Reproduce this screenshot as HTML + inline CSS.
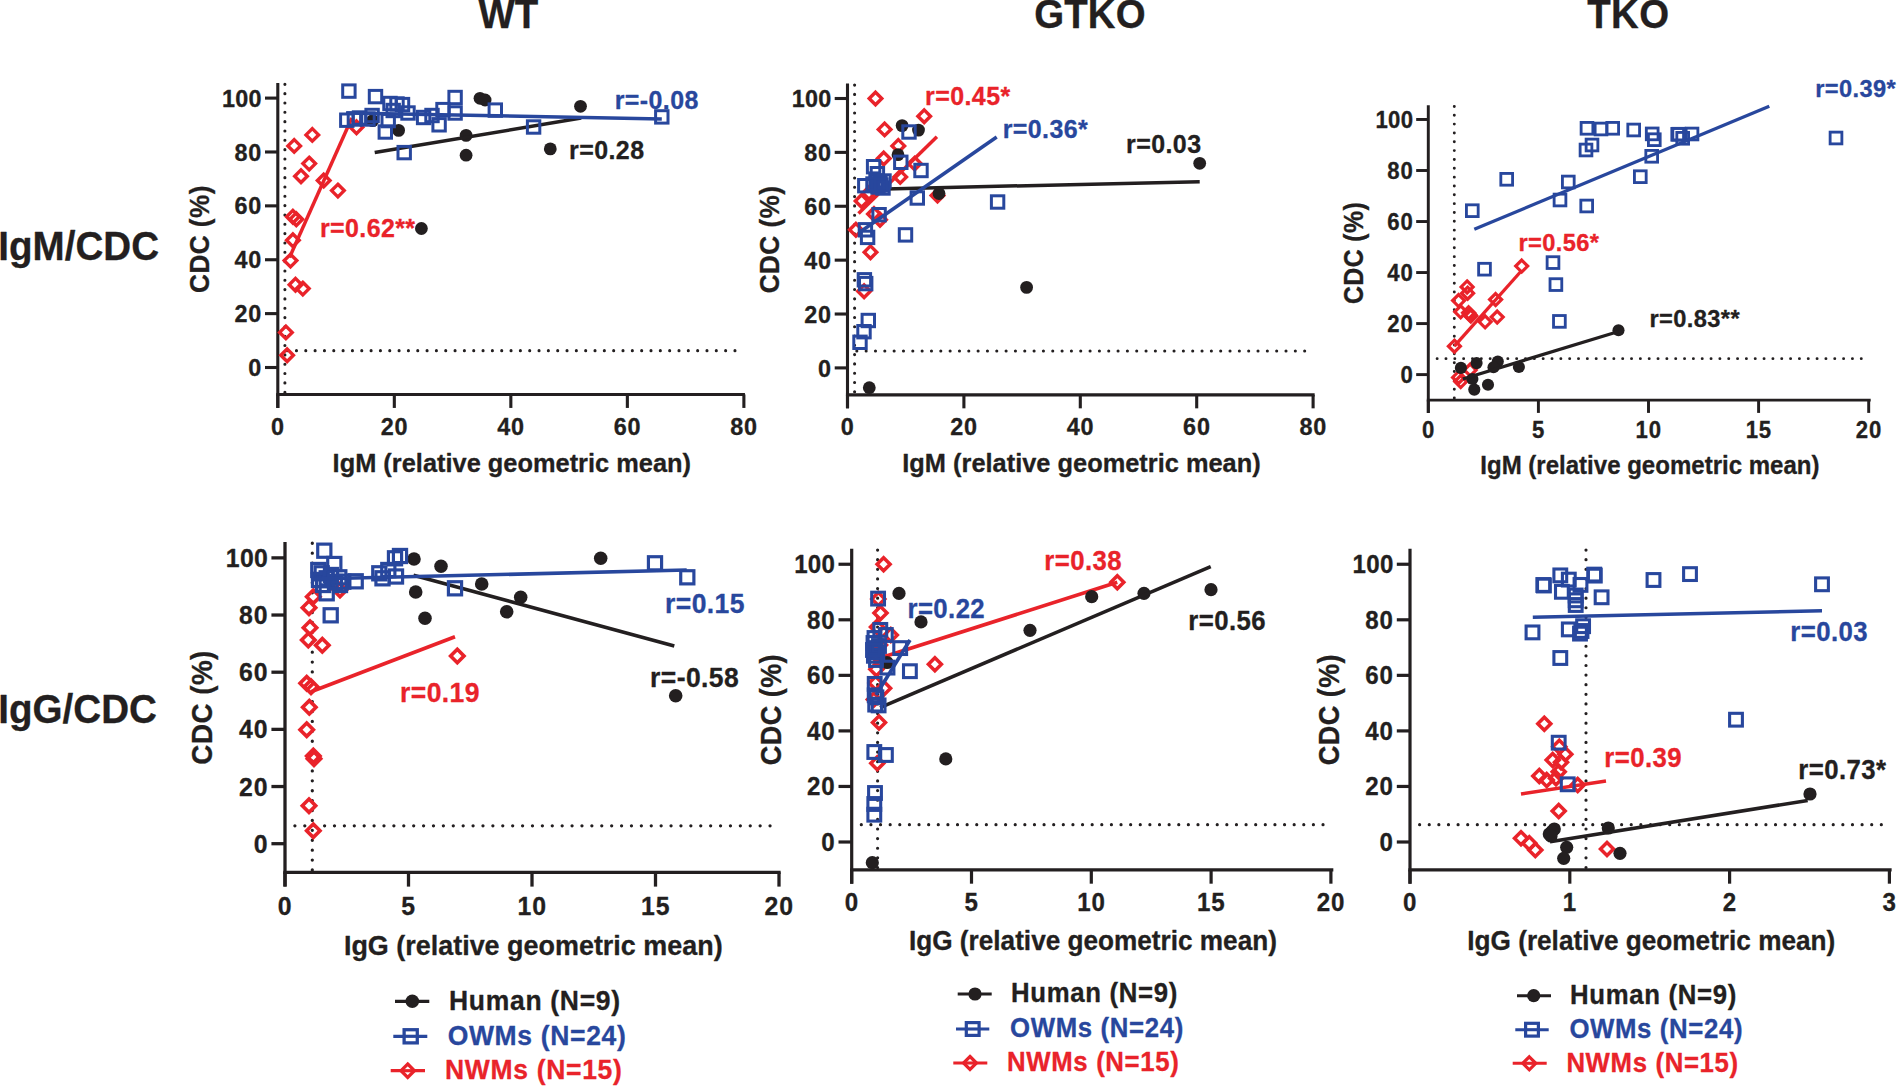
<!DOCTYPE html>
<html lang="en">
<head>
<meta charset="utf-8">
<title>IgM/IgG binding vs CDC correlation in WT, GTKO and TKO cells</title>
<style>
html,body{margin:0;padding:0;background:#fff;}
body{width:1898px;height:1086px;overflow:hidden;}
svg{display:block;}
svg text{font-family:"Liberation Sans", sans-serif;font-weight:bold;stroke-width:0.3px;stroke-linejoin:round;}
</style>
</head>
<body>
<svg width="1898" height="1086" viewBox="0 0 1898 1086">
<rect x="0" y="0" width="1898" height="1086" fill="#ffffff"/>
<g>
<line x1="287.13" y1="350.66" x2="739.4" y2="350.66" stroke="#231f20" stroke-width="3.1" stroke-linecap="round" stroke-dasharray="0 9.330"/>
<line x1="284.9" y1="84.33" x2="284.9" y2="394.44" stroke="#231f20" stroke-width="3.1" stroke-linecap="round" stroke-dasharray="0 9.330"/>
<line x1="277.8" y1="83.08" x2="277.8" y2="407.94" stroke="#231f20" stroke-width="3.1"/>
<line x1="276.25" y1="394.44" x2="744.95" y2="394.44" stroke="#231f20" stroke-width="3.1"/>
<line x1="265" y1="367.5" x2="277.8" y2="367.5" stroke="#231f20" stroke-width="3.1"/>
<text transform="translate(262.2 376.1) scale(1 1.0450)" font-size="23.4" fill="#231f20" stroke="#231f20" text-anchor="end" letter-spacing="0.86">0</text>
<line x1="265" y1="313.62" x2="277.8" y2="313.62" stroke="#231f20" stroke-width="3.1"/>
<text transform="translate(262.2 322.22) scale(1 1.0450)" font-size="23.4" fill="#231f20" stroke="#231f20" text-anchor="end" letter-spacing="0.86">20</text>
<line x1="265" y1="259.74" x2="277.8" y2="259.74" stroke="#231f20" stroke-width="3.1"/>
<text transform="translate(262.2 268.34) scale(1 1.0450)" font-size="23.4" fill="#231f20" stroke="#231f20" text-anchor="end" letter-spacing="0.86">40</text>
<line x1="265" y1="205.86" x2="277.8" y2="205.86" stroke="#231f20" stroke-width="3.1"/>
<text transform="translate(262.2 214.46) scale(1 1.0450)" font-size="23.4" fill="#231f20" stroke="#231f20" text-anchor="end" letter-spacing="0.86">60</text>
<line x1="265" y1="151.98" x2="277.8" y2="151.98" stroke="#231f20" stroke-width="3.1"/>
<text transform="translate(262.2 160.58) scale(1 1.0450)" font-size="23.4" fill="#231f20" stroke="#231f20" text-anchor="end" letter-spacing="0.86">80</text>
<line x1="265" y1="98.1" x2="277.8" y2="98.1" stroke="#231f20" stroke-width="3.1"/>
<text transform="translate(261.9 106.7) scale(1 1.0450)" font-size="23.4" fill="#231f20" stroke="#231f20" text-anchor="end" letter-spacing="0.3">100</text>
<line x1="277.8" y1="394.44" x2="277.8" y2="407.94" stroke="#231f20" stroke-width="3.1"/>
<text transform="translate(278 434.64) scale(1 1.0450)" font-size="23.4" fill="#231f20" stroke="#231f20" text-anchor="middle" letter-spacing="0.86">0</text>
<line x1="394.32" y1="394.44" x2="394.32" y2="407.94" stroke="#231f20" stroke-width="3.1"/>
<text transform="translate(394.52 434.64) scale(1 1.0450)" font-size="23.4" fill="#231f20" stroke="#231f20" text-anchor="middle" letter-spacing="0.86">20</text>
<line x1="510.84" y1="394.44" x2="510.84" y2="407.94" stroke="#231f20" stroke-width="3.1"/>
<text transform="translate(511.04 434.64) scale(1 1.0450)" font-size="23.4" fill="#231f20" stroke="#231f20" text-anchor="middle" letter-spacing="0.86">40</text>
<line x1="627.36" y1="394.44" x2="627.36" y2="407.94" stroke="#231f20" stroke-width="3.1"/>
<text transform="translate(627.56 434.64) scale(1 1.0450)" font-size="23.4" fill="#231f20" stroke="#231f20" text-anchor="middle" letter-spacing="0.86">60</text>
<line x1="743.88" y1="394.44" x2="743.88" y2="407.94" stroke="#231f20" stroke-width="3.1"/>
<text transform="translate(744.08 434.64) scale(1 1.0450)" font-size="23.4" fill="#231f20" stroke="#231f20" text-anchor="middle" letter-spacing="0.86">80</text>
<text transform="translate(511.8 472.04) scale(1 1.0450)" font-size="25.4" fill="#231f20" stroke="#231f20" text-anchor="middle" letter-spacing="0">IgM (relative geometric mean)</text>
<text transform="translate(209.2 239.03) rotate(-90) scale(1 1.0800)" font-size="26.2" fill="#231f20" stroke="#231f20" text-anchor="middle" letter-spacing="0.45">CDC (%)</text>
<path d="M312.3 128.6L318.6 134.9L312.3 141.2L306 134.9Z" fill="none" stroke="#e9232a" stroke-width="3.4" stroke-linejoin="miter"/>
<path d="M294.2 139.6L300.5 145.9L294.2 152.2L287.9 145.9Z" fill="none" stroke="#e9232a" stroke-width="3.4" stroke-linejoin="miter"/>
<path d="M309.2 157.3L315.5 163.6L309.2 169.9L302.9 163.6Z" fill="none" stroke="#e9232a" stroke-width="3.4" stroke-linejoin="miter"/>
<path d="M301 169.9L307.3 176.2L301 182.5L294.7 176.2Z" fill="none" stroke="#e9232a" stroke-width="3.4" stroke-linejoin="miter"/>
<path d="M323.7 174.2L330 180.5L323.7 186.8L317.4 180.5Z" fill="none" stroke="#e9232a" stroke-width="3.4" stroke-linejoin="miter"/>
<path d="M337.9 184.3L344.2 190.6L337.9 196.9L331.6 190.6Z" fill="none" stroke="#e9232a" stroke-width="3.4" stroke-linejoin="miter"/>
<path d="M356.5 121L362.8 127.3L356.5 133.6L350.2 127.3Z" fill="none" stroke="#e9232a" stroke-width="3.4" stroke-linejoin="miter"/>
<path d="M292.9 210.4L299.2 216.7L292.9 223L286.6 216.7Z" fill="none" stroke="#e9232a" stroke-width="3.4" stroke-linejoin="miter"/>
<path d="M296.3 212.9L302.6 219.2L296.3 225.5L290 219.2Z" fill="none" stroke="#e9232a" stroke-width="3.4" stroke-linejoin="miter"/>
<path d="M292.9 234L299.2 240.3L292.9 246.6L286.6 240.3Z" fill="none" stroke="#e9232a" stroke-width="3.4" stroke-linejoin="miter"/>
<path d="M290.5 254.3L296.8 260.6L290.5 266.9L284.2 260.6Z" fill="none" stroke="#e9232a" stroke-width="3.4" stroke-linejoin="miter"/>
<path d="M295.5 278.4L301.8 284.7L295.5 291L289.2 284.7Z" fill="none" stroke="#e9232a" stroke-width="3.4" stroke-linejoin="miter"/>
<path d="M302.8 282.3L309.1 288.6L302.8 294.9L296.5 288.6Z" fill="none" stroke="#e9232a" stroke-width="3.4" stroke-linejoin="miter"/>
<path d="M285.9 326.1L292.2 332.4L285.9 338.7L279.6 332.4Z" fill="none" stroke="#e9232a" stroke-width="3.4" stroke-linejoin="miter"/>
<path d="M287.1 348.9L293.4 355.2L287.1 361.5L280.8 355.2Z" fill="none" stroke="#e9232a" stroke-width="3.4" stroke-linejoin="miter"/>
<line x1="289.5" y1="257.5" x2="351.8" y2="118" stroke="#e9232a" stroke-width="3.5"/>
<circle cx="372.6" cy="120.6" r="6.4" fill="#231f20"/>
<circle cx="398.6" cy="130.4" r="6.4" fill="#231f20"/>
<circle cx="466.1" cy="135.4" r="6.4" fill="#231f20"/>
<circle cx="466.1" cy="155.2" r="6.4" fill="#231f20"/>
<circle cx="480" cy="98.3" r="6.4" fill="#231f20"/>
<circle cx="485.1" cy="100" r="6.4" fill="#231f20"/>
<circle cx="550.3" cy="148.9" r="6.4" fill="#231f20"/>
<circle cx="580.5" cy="106.3" r="6.4" fill="#231f20"/>
<circle cx="421.4" cy="228.5" r="6.4" fill="#231f20"/>
<line x1="374.7" y1="152.6" x2="581.2" y2="118" stroke="#231f20" stroke-width="3.5"/>
<rect x="342.7" y="84.9" width="12.4" height="12.4" fill="none" stroke="#28479d" stroke-width="3"/>
<rect x="369.3" y="90.4" width="12.4" height="12.4" fill="none" stroke="#28479d" stroke-width="3"/>
<rect x="448.9" y="91.3" width="12.4" height="12.4" fill="none" stroke="#28479d" stroke-width="3"/>
<rect x="448.9" y="106.8" width="12.4" height="12.4" fill="none" stroke="#28479d" stroke-width="3"/>
<rect x="436.8" y="103.4" width="12.4" height="12.4" fill="none" stroke="#28479d" stroke-width="3"/>
<rect x="489.1" y="103.9" width="12.4" height="12.4" fill="none" stroke="#28479d" stroke-width="3"/>
<rect x="527.4" y="120.8" width="12.4" height="12.4" fill="none" stroke="#28479d" stroke-width="3"/>
<rect x="398" y="146.4" width="12.4" height="12.4" fill="none" stroke="#28479d" stroke-width="3"/>
<rect x="379.1" y="125.8" width="12.4" height="12.4" fill="none" stroke="#28479d" stroke-width="3"/>
<rect x="432.9" y="118.6" width="12.4" height="12.4" fill="none" stroke="#28479d" stroke-width="3"/>
<rect x="425.8" y="109.3" width="12.4" height="12.4" fill="none" stroke="#28479d" stroke-width="3"/>
<rect x="417.4" y="111.3" width="12.4" height="12.4" fill="none" stroke="#28479d" stroke-width="3"/>
<rect x="401.8" y="106.8" width="12.4" height="12.4" fill="none" stroke="#28479d" stroke-width="3"/>
<rect x="340.6" y="114" width="12.4" height="12.4" fill="none" stroke="#28479d" stroke-width="3"/>
<rect x="655.6" y="110.7" width="12.4" height="12.4" fill="none" stroke="#28479d" stroke-width="3"/>
<rect x="383.8" y="97.3" width="12.4" height="12.4" fill="none" stroke="#28479d" stroke-width="3"/>
<rect x="390.8" y="97.8" width="12.4" height="12.4" fill="none" stroke="#28479d" stroke-width="3"/>
<rect x="396.3" y="98.4" width="12.4" height="12.4" fill="none" stroke="#28479d" stroke-width="3"/>
<rect x="387" y="104.3" width="12.4" height="12.4" fill="none" stroke="#28479d" stroke-width="3"/>
<rect x="365.9" y="109.3" width="12.4" height="12.4" fill="none" stroke="#28479d" stroke-width="3"/>
<rect x="361.8" y="112.8" width="12.4" height="12.4" fill="none" stroke="#28479d" stroke-width="3"/>
<rect x="353.3" y="111.8" width="12.4" height="12.4" fill="none" stroke="#28479d" stroke-width="3"/>
<rect x="348.2" y="112.8" width="12.4" height="12.4" fill="none" stroke="#28479d" stroke-width="3"/>
<rect x="382" y="114.4" width="12.4" height="12.4" fill="none" stroke="#28479d" stroke-width="3"/>
<line x1="346" y1="113" x2="661.8" y2="118.9" stroke="#28479d" stroke-width="3.5"/>
<text transform="translate(614.7 109) scale(1 1.0450)" font-size="25" fill="#28479d" stroke="#28479d" text-anchor="start" letter-spacing="0.4">r=-0.08</text>
<text transform="translate(569.1 159.1) scale(1 1.0450)" font-size="25" fill="#231f20" stroke="#231f20" text-anchor="start" letter-spacing="0.4">r=0.28</text>
<text transform="translate(319.9 236.6) scale(1 1.0450)" font-size="25" fill="#e9232a" stroke="#e9232a" text-anchor="start" letter-spacing="0.4">r=0.62**</text>
</g>
<g>
<line x1="856.83" y1="351.06" x2="1309.1" y2="351.06" stroke="#231f20" stroke-width="3.1" stroke-linecap="round" stroke-dasharray="0 9.330"/>
<line x1="854.6" y1="85.1" x2="854.6" y2="394.84" stroke="#231f20" stroke-width="3.1" stroke-linecap="round" stroke-dasharray="0 9.293"/>
<line x1="847.5" y1="83.48" x2="847.5" y2="408.34" stroke="#231f20" stroke-width="3.1"/>
<line x1="845.95" y1="394.84" x2="1314.65" y2="394.84" stroke="#231f20" stroke-width="3.1"/>
<line x1="834.7" y1="367.9" x2="847.5" y2="367.9" stroke="#231f20" stroke-width="3.1"/>
<text transform="translate(831.9 376.5) scale(1 1.0450)" font-size="23.4" fill="#231f20" stroke="#231f20" text-anchor="end" letter-spacing="0.86">0</text>
<line x1="834.7" y1="314.02" x2="847.5" y2="314.02" stroke="#231f20" stroke-width="3.1"/>
<text transform="translate(831.9 322.62) scale(1 1.0450)" font-size="23.4" fill="#231f20" stroke="#231f20" text-anchor="end" letter-spacing="0.86">20</text>
<line x1="834.7" y1="260.14" x2="847.5" y2="260.14" stroke="#231f20" stroke-width="3.1"/>
<text transform="translate(831.9 268.74) scale(1 1.0450)" font-size="23.4" fill="#231f20" stroke="#231f20" text-anchor="end" letter-spacing="0.86">40</text>
<line x1="834.7" y1="206.26" x2="847.5" y2="206.26" stroke="#231f20" stroke-width="3.1"/>
<text transform="translate(831.9 214.86) scale(1 1.0450)" font-size="23.4" fill="#231f20" stroke="#231f20" text-anchor="end" letter-spacing="0.86">60</text>
<line x1="834.7" y1="152.38" x2="847.5" y2="152.38" stroke="#231f20" stroke-width="3.1"/>
<text transform="translate(831.9 160.98) scale(1 1.0450)" font-size="23.4" fill="#231f20" stroke="#231f20" text-anchor="end" letter-spacing="0.86">80</text>
<line x1="834.7" y1="98.5" x2="847.5" y2="98.5" stroke="#231f20" stroke-width="3.1"/>
<text transform="translate(831.6 107.1) scale(1 1.0450)" font-size="23.4" fill="#231f20" stroke="#231f20" text-anchor="end" letter-spacing="0.3">100</text>
<line x1="847.5" y1="394.84" x2="847.5" y2="408.34" stroke="#231f20" stroke-width="3.1"/>
<text transform="translate(847.7 435.04) scale(1 1.0450)" font-size="23.4" fill="#231f20" stroke="#231f20" text-anchor="middle" letter-spacing="0.86">0</text>
<line x1="963.9" y1="394.84" x2="963.9" y2="408.34" stroke="#231f20" stroke-width="3.1"/>
<text transform="translate(964.1 435.04) scale(1 1.0450)" font-size="23.4" fill="#231f20" stroke="#231f20" text-anchor="middle" letter-spacing="0.86">20</text>
<line x1="1080.3" y1="394.84" x2="1080.3" y2="408.34" stroke="#231f20" stroke-width="3.1"/>
<text transform="translate(1080.5 435.04) scale(1 1.0450)" font-size="23.4" fill="#231f20" stroke="#231f20" text-anchor="middle" letter-spacing="0.86">40</text>
<line x1="1196.7" y1="394.84" x2="1196.7" y2="408.34" stroke="#231f20" stroke-width="3.1"/>
<text transform="translate(1196.9 435.04) scale(1 1.0450)" font-size="23.4" fill="#231f20" stroke="#231f20" text-anchor="middle" letter-spacing="0.86">60</text>
<line x1="1313.1" y1="394.84" x2="1313.1" y2="408.34" stroke="#231f20" stroke-width="3.1"/>
<text transform="translate(1313.3 435.04) scale(1 1.0450)" font-size="23.4" fill="#231f20" stroke="#231f20" text-anchor="middle" letter-spacing="0.86">80</text>
<text transform="translate(1081.5 472.44) scale(1 1.0450)" font-size="25.4" fill="#231f20" stroke="#231f20" text-anchor="middle" letter-spacing="0">IgM (relative geometric mean)</text>
<text transform="translate(778.9 239.43) rotate(-90) scale(1 1.0800)" font-size="26.2" fill="#231f20" stroke="#231f20" text-anchor="middle" letter-spacing="0.45">CDC (%)</text>
<path d="M875.5 92.2L881.8 98.5L875.5 104.8L869.2 98.5Z" fill="none" stroke="#e9232a" stroke-width="3.4" stroke-linejoin="miter"/>
<path d="M924.2 109.9L930.5 116.2L924.2 122.5L917.9 116.2Z" fill="none" stroke="#e9232a" stroke-width="3.4" stroke-linejoin="miter"/>
<path d="M884.6 123.1L890.9 129.4L884.6 135.7L878.3 129.4Z" fill="none" stroke="#e9232a" stroke-width="3.4" stroke-linejoin="miter"/>
<path d="M898.3 139.6L904.6 145.9L898.3 152.2L892 145.9Z" fill="none" stroke="#e9232a" stroke-width="3.4" stroke-linejoin="miter"/>
<path d="M883.7 152.2L890 158.5L883.7 164.8L877.4 158.5Z" fill="none" stroke="#e9232a" stroke-width="3.4" stroke-linejoin="miter"/>
<path d="M900.2 170.6L906.5 176.9L900.2 183.2L893.9 176.9Z" fill="none" stroke="#e9232a" stroke-width="3.4" stroke-linejoin="miter"/>
<path d="M861.6 194.7L867.9 201L861.6 207.3L855.3 201Z" fill="none" stroke="#e9232a" stroke-width="3.4" stroke-linejoin="miter"/>
<path d="M937.5 189.2L943.8 195.5L937.5 201.8L931.2 195.5Z" fill="none" stroke="#e9232a" stroke-width="3.4" stroke-linejoin="miter"/>
<path d="M914.7 157.3L921 163.6L914.7 169.9L908.4 163.6Z" fill="none" stroke="#e9232a" stroke-width="3.4" stroke-linejoin="miter"/>
<path d="M870.5 245.9L876.8 252.2L870.5 258.5L864.2 252.2Z" fill="none" stroke="#e9232a" stroke-width="3.4" stroke-linejoin="miter"/>
<path d="M864.1 284.9L870.4 291.2L864.1 297.5L857.8 291.2Z" fill="none" stroke="#e9232a" stroke-width="3.4" stroke-linejoin="miter"/>
<path d="M880 213.4L886.3 219.7L880 226L873.7 219.7Z" fill="none" stroke="#e9232a" stroke-width="3.4" stroke-linejoin="miter"/>
<path d="M855.9 223.5L862.2 229.8L855.9 236.1L849.6 229.8Z" fill="none" stroke="#e9232a" stroke-width="3.4" stroke-linejoin="miter"/>
<path d="M874 207.7L880.3 214L874 220.3L867.7 214Z" fill="none" stroke="#e9232a" stroke-width="3.4" stroke-linejoin="miter"/>
<path d="M869 186.7L875.3 193L869 199.3L862.7 193Z" fill="none" stroke="#e9232a" stroke-width="3.4" stroke-linejoin="miter"/>
<line x1="858.5" y1="213.4" x2="936.9" y2="136.8" stroke="#e9232a" stroke-width="3.5"/>
<circle cx="902.1" cy="125.6" r="6.4" fill="#231f20"/>
<circle cx="918.5" cy="130.1" r="6.4" fill="#231f20"/>
<circle cx="898" cy="154.7" r="6.4" fill="#231f20"/>
<circle cx="939" cy="193.5" r="6.4" fill="#231f20"/>
<circle cx="1026.6" cy="287.4" r="6.4" fill="#231f20"/>
<circle cx="1199.7" cy="163.3" r="6.4" fill="#231f20"/>
<circle cx="869.3" cy="387.7" r="6.4" fill="#231f20"/>
<line x1="885.6" y1="188.9" x2="1199.7" y2="181.7" stroke="#231f20" stroke-width="3.5"/>
<rect x="902.8" y="125.8" width="12.4" height="12.4" fill="none" stroke="#28479d" stroke-width="3"/>
<rect x="894.6" y="156.1" width="12.4" height="12.4" fill="none" stroke="#28479d" stroke-width="3"/>
<rect x="914.8" y="164.3" width="12.4" height="12.4" fill="none" stroke="#28479d" stroke-width="3"/>
<rect x="867.4" y="160.5" width="12.4" height="12.4" fill="none" stroke="#28479d" stroke-width="3"/>
<rect x="871.2" y="167.5" width="12.4" height="12.4" fill="none" stroke="#28479d" stroke-width="3"/>
<rect x="858.6" y="179.5" width="12.4" height="12.4" fill="none" stroke="#28479d" stroke-width="3"/>
<rect x="911.1" y="191.8" width="12.4" height="12.4" fill="none" stroke="#28479d" stroke-width="3"/>
<rect x="991.4" y="195.8" width="12.4" height="12.4" fill="none" stroke="#28479d" stroke-width="3"/>
<rect x="872.9" y="208.5" width="12.4" height="12.4" fill="none" stroke="#28479d" stroke-width="3"/>
<rect x="859.2" y="223.6" width="12.4" height="12.4" fill="none" stroke="#28479d" stroke-width="3"/>
<rect x="861.4" y="231.2" width="12.4" height="12.4" fill="none" stroke="#28479d" stroke-width="3"/>
<rect x="899.3" y="228.7" width="12.4" height="12.4" fill="none" stroke="#28479d" stroke-width="3"/>
<rect x="858.2" y="273.6" width="12.4" height="12.4" fill="none" stroke="#28479d" stroke-width="3"/>
<rect x="859.5" y="277.4" width="12.4" height="12.4" fill="none" stroke="#28479d" stroke-width="3"/>
<rect x="862.1" y="314.3" width="12.4" height="12.4" fill="none" stroke="#28479d" stroke-width="3"/>
<rect x="869.8" y="174.8" width="12.4" height="12.4" fill="none" stroke="#28479d" stroke-width="3"/>
<rect x="873.8" y="176.8" width="12.4" height="12.4" fill="none" stroke="#28479d" stroke-width="3"/>
<rect x="877.8" y="174.8" width="12.4" height="12.4" fill="none" stroke="#28479d" stroke-width="3"/>
<rect x="871.8" y="180.8" width="12.4" height="12.4" fill="none" stroke="#28479d" stroke-width="3"/>
<rect x="876.8" y="181.8" width="12.4" height="12.4" fill="none" stroke="#28479d" stroke-width="3"/>
<rect x="866.8" y="177.8" width="12.4" height="12.4" fill="none" stroke="#28479d" stroke-width="3"/>
<rect x="857.8" y="325.5" width="12.4" height="12.4" fill="none" stroke="#28479d" stroke-width="3"/>
<rect x="853.8" y="336.1" width="12.4" height="12.4" fill="none" stroke="#28479d" stroke-width="3"/>
<rect x="874.8" y="178.8" width="12.4" height="12.4" fill="none" stroke="#28479d" stroke-width="3"/>
<line x1="860" y1="232" x2="996.7" y2="137" stroke="#28479d" stroke-width="3.5"/>
<text transform="translate(925.1 104.5) scale(1 1.0450)" font-size="25" fill="#e9232a" stroke="#e9232a" text-anchor="start" letter-spacing="0.4">r=0.45*</text>
<text transform="translate(1002.7 138.2) scale(1 1.0450)" font-size="25" fill="#28479d" stroke="#28479d" text-anchor="start" letter-spacing="0.4">r=0.36*</text>
<text transform="translate(1126.1 153.3) scale(1 1.0450)" font-size="25" fill="#231f20" stroke="#231f20" text-anchor="start" letter-spacing="0.4">r=0.03</text>
</g>
<g>
<line x1="1437.14" y1="358.65" x2="1865.44" y2="358.65" stroke="#231f20" stroke-width="2.94" stroke-linecap="round" stroke-dasharray="0 8.836"/>
<line x1="1454.3" y1="106.44" x2="1454.3" y2="400.11" stroke="#231f20" stroke-width="2.94" stroke-linecap="round" stroke-dasharray="0 8.836"/>
<line x1="1428.3" y1="105.25" x2="1428.3" y2="412.9" stroke="#231f20" stroke-width="2.94"/>
<line x1="1426.83" y1="400.11" x2="1870.69" y2="400.11" stroke="#231f20" stroke-width="2.94"/>
<line x1="1416.18" y1="374.6" x2="1428.3" y2="374.6" stroke="#231f20" stroke-width="2.94"/>
<text transform="translate(1413.53 382.74) scale(1 1.0450)" font-size="22.16" fill="#231f20" stroke="#231f20" text-anchor="end" letter-spacing="0.81">0</text>
<line x1="1416.18" y1="323.58" x2="1428.3" y2="323.58" stroke="#231f20" stroke-width="2.94"/>
<text transform="translate(1413.53 331.72) scale(1 1.0450)" font-size="22.16" fill="#231f20" stroke="#231f20" text-anchor="end" letter-spacing="0.81">20</text>
<line x1="1416.18" y1="272.55" x2="1428.3" y2="272.55" stroke="#231f20" stroke-width="2.94"/>
<text transform="translate(1413.53 280.7) scale(1 1.0450)" font-size="22.16" fill="#231f20" stroke="#231f20" text-anchor="end" letter-spacing="0.81">40</text>
<line x1="1416.18" y1="221.53" x2="1428.3" y2="221.53" stroke="#231f20" stroke-width="2.94"/>
<text transform="translate(1413.53 229.67) scale(1 1.0450)" font-size="22.16" fill="#231f20" stroke="#231f20" text-anchor="end" letter-spacing="0.81">60</text>
<line x1="1416.18" y1="170.5" x2="1428.3" y2="170.5" stroke="#231f20" stroke-width="2.94"/>
<text transform="translate(1413.53 178.65) scale(1 1.0450)" font-size="22.16" fill="#231f20" stroke="#231f20" text-anchor="end" letter-spacing="0.81">80</text>
<line x1="1416.18" y1="119.48" x2="1428.3" y2="119.48" stroke="#231f20" stroke-width="2.94"/>
<text transform="translate(1413.24 127.62) scale(1 1.0450)" font-size="22.16" fill="#231f20" stroke="#231f20" text-anchor="end" letter-spacing="0.28">100</text>
<line x1="1428.3" y1="400.11" x2="1428.3" y2="412.9" stroke="#231f20" stroke-width="2.94"/>
<text transform="translate(1428.49 438.18) scale(1 1.0450)" font-size="22.16" fill="#231f20" stroke="#231f20" text-anchor="middle" letter-spacing="0.81">0</text>
<line x1="1538.4" y1="400.11" x2="1538.4" y2="412.9" stroke="#231f20" stroke-width="2.94"/>
<text transform="translate(1538.59 438.18) scale(1 1.0450)" font-size="22.16" fill="#231f20" stroke="#231f20" text-anchor="middle" letter-spacing="0.81">5</text>
<line x1="1648.5" y1="400.11" x2="1648.5" y2="412.9" stroke="#231f20" stroke-width="2.94"/>
<text transform="translate(1648.69 438.18) scale(1 1.0450)" font-size="22.16" fill="#231f20" stroke="#231f20" text-anchor="middle" letter-spacing="0.81">10</text>
<line x1="1758.6" y1="400.11" x2="1758.6" y2="412.9" stroke="#231f20" stroke-width="2.94"/>
<text transform="translate(1758.79 438.18) scale(1 1.0450)" font-size="22.16" fill="#231f20" stroke="#231f20" text-anchor="middle" letter-spacing="0.81">15</text>
<line x1="1868.7" y1="400.11" x2="1868.7" y2="412.9" stroke="#231f20" stroke-width="2.94"/>
<text transform="translate(1868.89 438.18) scale(1 1.0450)" font-size="22.16" fill="#231f20" stroke="#231f20" text-anchor="middle" letter-spacing="0.81">20</text>
<text transform="translate(1649.9 473.6) scale(1 1.0450)" font-size="24.05" fill="#231f20" stroke="#231f20" text-anchor="middle" letter-spacing="0">IgM (relative geometric mean)</text>
<text transform="translate(1363.34 252.94) rotate(-90) scale(1 1.0800)" font-size="24.81" fill="#231f20" stroke="#231f20" text-anchor="middle" letter-spacing="0.43">CDC (%)</text>
<path d="M1521.7 260.13L1527.67 266.1L1521.7 272.07L1515.73 266.1Z" fill="none" stroke="#e9232a" stroke-width="3.22" stroke-linejoin="miter"/>
<path d="M1467.1 280.93L1473.07 286.9L1467.1 292.87L1461.13 286.9Z" fill="none" stroke="#e9232a" stroke-width="3.22" stroke-linejoin="miter"/>
<path d="M1467.6 287.23L1473.57 293.2L1467.6 299.17L1461.63 293.2Z" fill="none" stroke="#e9232a" stroke-width="3.22" stroke-linejoin="miter"/>
<path d="M1458.6 294.63L1464.57 300.6L1458.6 306.57L1452.63 300.6Z" fill="none" stroke="#e9232a" stroke-width="3.22" stroke-linejoin="miter"/>
<path d="M1460.7 305.83L1466.67 311.8L1460.7 317.77L1454.73 311.8Z" fill="none" stroke="#e9232a" stroke-width="3.22" stroke-linejoin="miter"/>
<path d="M1468.6 306.83L1474.57 312.8L1468.6 318.77L1462.63 312.8Z" fill="none" stroke="#e9232a" stroke-width="3.22" stroke-linejoin="miter"/>
<path d="M1470.8 310.03L1476.77 316L1470.8 321.97L1464.83 316Z" fill="none" stroke="#e9232a" stroke-width="3.22" stroke-linejoin="miter"/>
<path d="M1495.6 293.63L1501.57 299.6L1495.6 305.57L1489.63 299.6Z" fill="none" stroke="#e9232a" stroke-width="3.22" stroke-linejoin="miter"/>
<path d="M1485.1 315.83L1491.07 321.8L1485.1 327.77L1479.13 321.8Z" fill="none" stroke="#e9232a" stroke-width="3.22" stroke-linejoin="miter"/>
<path d="M1497.2 311.13L1503.17 317.1L1497.2 323.07L1491.23 317.1Z" fill="none" stroke="#e9232a" stroke-width="3.22" stroke-linejoin="miter"/>
<path d="M1454.4 340.23L1460.37 346.2L1454.4 352.17L1448.43 346.2Z" fill="none" stroke="#e9232a" stroke-width="3.22" stroke-linejoin="miter"/>
<path d="M1458.6 371.43L1464.57 377.4L1458.6 383.37L1452.63 377.4Z" fill="none" stroke="#e9232a" stroke-width="3.22" stroke-linejoin="miter"/>
<path d="M1460.7 375.63L1466.67 381.6L1460.7 387.57L1454.73 381.6Z" fill="none" stroke="#e9232a" stroke-width="3.22" stroke-linejoin="miter"/>
<path d="M1470.2 364.03L1476.17 370L1470.2 375.97L1464.23 370Z" fill="none" stroke="#e9232a" stroke-width="3.22" stroke-linejoin="miter"/>
<path d="M1469.7 308.43L1475.67 314.4L1469.7 320.37L1463.73 314.4Z" fill="none" stroke="#e9232a" stroke-width="3.22" stroke-linejoin="miter"/>
<line x1="1454.4" y1="346.2" x2="1521.7" y2="270.5" stroke="#e9232a" stroke-width="3.31"/>
<circle cx="1460.9" cy="367.9" r="6.06" fill="#231f20"/>
<circle cx="1476.6" cy="363.1" r="6.06" fill="#231f20"/>
<circle cx="1497.8" cy="361.5" r="6.06" fill="#231f20"/>
<circle cx="1493.5" cy="367.3" r="6.06" fill="#231f20"/>
<circle cx="1518.9" cy="367" r="6.06" fill="#231f20"/>
<circle cx="1472.4" cy="379" r="6.06" fill="#231f20"/>
<circle cx="1474.3" cy="389.6" r="6.06" fill="#231f20"/>
<circle cx="1488" cy="384.8" r="6.06" fill="#231f20"/>
<circle cx="1618.5" cy="330.3" r="6.06" fill="#231f20"/>
<line x1="1462.8" y1="379" x2="1618.5" y2="331.5" stroke="#231f20" stroke-width="3.31"/>
<rect x="1466.43" y="204.83" width="11.74" height="11.74" fill="none" stroke="#28479d" stroke-width="2.84"/>
<rect x="1500.83" y="173.43" width="11.74" height="11.74" fill="none" stroke="#28479d" stroke-width="2.84"/>
<rect x="1478.63" y="263.33" width="11.74" height="11.74" fill="none" stroke="#28479d" stroke-width="2.84"/>
<rect x="1547.13" y="256.73" width="11.74" height="11.74" fill="none" stroke="#28479d" stroke-width="2.84"/>
<rect x="1550.03" y="278.73" width="11.74" height="11.74" fill="none" stroke="#28479d" stroke-width="2.84"/>
<rect x="1553.53" y="315.53" width="11.74" height="11.74" fill="none" stroke="#28479d" stroke-width="2.84"/>
<rect x="1554.13" y="194.13" width="11.74" height="11.74" fill="none" stroke="#28479d" stroke-width="2.84"/>
<rect x="1562.43" y="176.13" width="11.74" height="11.74" fill="none" stroke="#28479d" stroke-width="2.84"/>
<rect x="1580.83" y="200.13" width="11.74" height="11.74" fill="none" stroke="#28479d" stroke-width="2.84"/>
<rect x="1580.13" y="144.13" width="11.74" height="11.74" fill="none" stroke="#28479d" stroke-width="2.84"/>
<rect x="1586.13" y="139.13" width="11.74" height="11.74" fill="none" stroke="#28479d" stroke-width="2.84"/>
<rect x="1581.13" y="122.43" width="11.74" height="11.74" fill="none" stroke="#28479d" stroke-width="2.84"/>
<rect x="1595.13" y="123.13" width="11.74" height="11.74" fill="none" stroke="#28479d" stroke-width="2.84"/>
<rect x="1606.83" y="122.43" width="11.74" height="11.74" fill="none" stroke="#28479d" stroke-width="2.84"/>
<rect x="1627.83" y="124.13" width="11.74" height="11.74" fill="none" stroke="#28479d" stroke-width="2.84"/>
<rect x="1646.33" y="128.03" width="11.74" height="11.74" fill="none" stroke="#28479d" stroke-width="2.84"/>
<rect x="1648.43" y="133.83" width="11.74" height="11.74" fill="none" stroke="#28479d" stroke-width="2.84"/>
<rect x="1645.83" y="150.43" width="11.74" height="11.74" fill="none" stroke="#28479d" stroke-width="2.84"/>
<rect x="1634.43" y="170.83" width="11.74" height="11.74" fill="none" stroke="#28479d" stroke-width="2.84"/>
<rect x="1671.83" y="128.43" width="11.74" height="11.74" fill="none" stroke="#28479d" stroke-width="2.84"/>
<rect x="1676.83" y="132.43" width="11.74" height="11.74" fill="none" stroke="#28479d" stroke-width="2.84"/>
<rect x="1686.13" y="128.13" width="11.74" height="11.74" fill="none" stroke="#28479d" stroke-width="2.84"/>
<rect x="1830.13" y="132.13" width="11.74" height="11.74" fill="none" stroke="#28479d" stroke-width="2.84"/>
<rect x="1672.83" y="128.33" width="11.74" height="11.74" fill="none" stroke="#28479d" stroke-width="2.84"/>
<line x1="1474.3" y1="229.3" x2="1769.3" y2="106.2" stroke="#28479d" stroke-width="3.31"/>
<text transform="translate(1815.18 97.27) scale(1 1.0450)" font-size="23.67" fill="#28479d" stroke="#28479d" text-anchor="start" letter-spacing="0.38">r=0.39*</text>
<text transform="translate(1518.48 251.27) scale(1 1.0450)" font-size="23.67" fill="#e9232a" stroke="#e9232a" text-anchor="start" letter-spacing="0.38">r=0.56*</text>
<text transform="translate(1649.48 327.27) scale(1 1.0450)" font-size="23.67" fill="#231f20" stroke="#231f20" text-anchor="start" letter-spacing="0.38">r=0.83**</text>
</g>
<g>
<line x1="294.9" y1="825.84" x2="774.76" y2="825.84" stroke="#231f20" stroke-width="3.29" stroke-linecap="round" stroke-dasharray="0 9.899"/>
<line x1="312.3" y1="543.26" x2="312.3" y2="872.28" stroke="#231f20" stroke-width="3.29" stroke-linecap="round" stroke-dasharray="0 9.899"/>
<line x1="285" y1="541.93" x2="285" y2="886.61" stroke="#231f20" stroke-width="3.29"/>
<line x1="283.36" y1="872.28" x2="780.65" y2="872.28" stroke="#231f20" stroke-width="3.29"/>
<line x1="271.42" y1="843.7" x2="285" y2="843.7" stroke="#231f20" stroke-width="3.29"/>
<text transform="translate(268.45 852.82) scale(1 1.0450)" font-size="24.83" fill="#231f20" stroke="#231f20" text-anchor="end" letter-spacing="0.91">0</text>
<line x1="271.42" y1="786.53" x2="285" y2="786.53" stroke="#231f20" stroke-width="3.29"/>
<text transform="translate(268.45 795.66) scale(1 1.0450)" font-size="24.83" fill="#231f20" stroke="#231f20" text-anchor="end" letter-spacing="0.91">20</text>
<line x1="271.42" y1="729.37" x2="285" y2="729.37" stroke="#231f20" stroke-width="3.29"/>
<text transform="translate(268.45 738.49) scale(1 1.0450)" font-size="24.83" fill="#231f20" stroke="#231f20" text-anchor="end" letter-spacing="0.91">40</text>
<line x1="271.42" y1="672.2" x2="285" y2="672.2" stroke="#231f20" stroke-width="3.29"/>
<text transform="translate(268.45 681.32) scale(1 1.0450)" font-size="24.83" fill="#231f20" stroke="#231f20" text-anchor="end" letter-spacing="0.91">60</text>
<line x1="271.42" y1="615.03" x2="285" y2="615.03" stroke="#231f20" stroke-width="3.29"/>
<text transform="translate(268.45 624.16) scale(1 1.0450)" font-size="24.83" fill="#231f20" stroke="#231f20" text-anchor="end" letter-spacing="0.91">80</text>
<line x1="271.42" y1="557.87" x2="285" y2="557.87" stroke="#231f20" stroke-width="3.29"/>
<text transform="translate(268.13 566.99) scale(1 1.0450)" font-size="24.83" fill="#231f20" stroke="#231f20" text-anchor="end" letter-spacing="0.32">100</text>
<line x1="285" y1="872.28" x2="285" y2="886.61" stroke="#231f20" stroke-width="3.29"/>
<text transform="translate(285.21 914.94) scale(1 1.0450)" font-size="24.83" fill="#231f20" stroke="#231f20" text-anchor="middle" letter-spacing="0.91">0</text>
<line x1="408.5" y1="872.28" x2="408.5" y2="886.61" stroke="#231f20" stroke-width="3.29"/>
<text transform="translate(408.71 914.94) scale(1 1.0450)" font-size="24.83" fill="#231f20" stroke="#231f20" text-anchor="middle" letter-spacing="0.91">5</text>
<line x1="532" y1="872.28" x2="532" y2="886.61" stroke="#231f20" stroke-width="3.29"/>
<text transform="translate(532.21 914.94) scale(1 1.0450)" font-size="24.83" fill="#231f20" stroke="#231f20" text-anchor="middle" letter-spacing="0.91">10</text>
<line x1="655.5" y1="872.28" x2="655.5" y2="886.61" stroke="#231f20" stroke-width="3.29"/>
<text transform="translate(655.71 914.94) scale(1 1.0450)" font-size="24.83" fill="#231f20" stroke="#231f20" text-anchor="middle" letter-spacing="0.91">15</text>
<line x1="779" y1="872.28" x2="779" y2="886.61" stroke="#231f20" stroke-width="3.29"/>
<text transform="translate(779.21 914.94) scale(1 1.0450)" font-size="24.83" fill="#231f20" stroke="#231f20" text-anchor="middle" letter-spacing="0.91">20</text>
<text transform="translate(533.27 954.62) scale(1 1.0450)" font-size="26.95" fill="#231f20" stroke="#231f20" text-anchor="middle" letter-spacing="0">IgG (relative geometric mean)</text>
<text transform="translate(212.22 707.4) rotate(-90) scale(1 1.0800)" font-size="27.8" fill="#231f20" stroke="#231f20" text-anchor="middle" letter-spacing="0.48">CDC (%)</text>
<path d="M313.3 590.02L319.98 596.7L313.3 603.38L306.62 596.7Z" fill="none" stroke="#e9232a" stroke-width="3.61" stroke-linejoin="miter"/>
<path d="M309 601.02L315.68 607.7L309 614.38L302.32 607.7Z" fill="none" stroke="#e9232a" stroke-width="3.61" stroke-linejoin="miter"/>
<path d="M310 621.02L316.68 627.7L310 634.38L303.32 627.7Z" fill="none" stroke="#e9232a" stroke-width="3.61" stroke-linejoin="miter"/>
<path d="M308.3 633.32L314.98 640L308.3 646.68L301.62 640Z" fill="none" stroke="#e9232a" stroke-width="3.61" stroke-linejoin="miter"/>
<path d="M322.3 638.62L328.98 645.3L322.3 651.98L315.62 645.3Z" fill="none" stroke="#e9232a" stroke-width="3.61" stroke-linejoin="miter"/>
<path d="M340 583.32L346.68 590L340 596.68L333.32 590Z" fill="none" stroke="#e9232a" stroke-width="3.61" stroke-linejoin="miter"/>
<path d="M457.3 649.32L463.98 656L457.3 662.68L450.62 656Z" fill="none" stroke="#e9232a" stroke-width="3.61" stroke-linejoin="miter"/>
<path d="M306.7 676.62L313.38 683.3L306.7 689.98L300.02 683.3Z" fill="none" stroke="#e9232a" stroke-width="3.61" stroke-linejoin="miter"/>
<path d="M311 680.02L317.68 686.7L311 693.38L304.32 686.7Z" fill="none" stroke="#e9232a" stroke-width="3.61" stroke-linejoin="miter"/>
<path d="M309.3 700.62L315.98 707.3L309.3 713.98L302.62 707.3Z" fill="none" stroke="#e9232a" stroke-width="3.61" stroke-linejoin="miter"/>
<path d="M306.7 723.02L313.38 729.7L306.7 736.38L300.02 729.7Z" fill="none" stroke="#e9232a" stroke-width="3.61" stroke-linejoin="miter"/>
<path d="M313.3 749.32L319.98 756L313.3 762.68L306.62 756Z" fill="none" stroke="#e9232a" stroke-width="3.61" stroke-linejoin="miter"/>
<path d="M314 752.02L320.68 758.7L314 765.38L307.32 758.7Z" fill="none" stroke="#e9232a" stroke-width="3.61" stroke-linejoin="miter"/>
<path d="M309 799.02L315.68 805.7L309 812.38L302.32 805.7Z" fill="none" stroke="#e9232a" stroke-width="3.61" stroke-linejoin="miter"/>
<path d="M313.3 824.02L319.98 830.7L313.3 837.38L306.62 830.7Z" fill="none" stroke="#e9232a" stroke-width="3.61" stroke-linejoin="miter"/>
<line x1="311" y1="691.7" x2="455" y2="636.7" stroke="#e9232a" stroke-width="3.71"/>
<circle cx="414" cy="559" r="6.79" fill="#231f20"/>
<circle cx="441" cy="566.3" r="6.79" fill="#231f20"/>
<circle cx="415.7" cy="592" r="6.79" fill="#231f20"/>
<circle cx="425" cy="618.3" r="6.79" fill="#231f20"/>
<circle cx="481.7" cy="584" r="6.79" fill="#231f20"/>
<circle cx="520.7" cy="597.3" r="6.79" fill="#231f20"/>
<circle cx="506.7" cy="611.7" r="6.79" fill="#231f20"/>
<circle cx="600.7" cy="558.3" r="6.79" fill="#231f20"/>
<circle cx="675.7" cy="695.7" r="6.79" fill="#231f20"/>
<line x1="413.5" y1="575.2" x2="674.3" y2="646" stroke="#231f20" stroke-width="3.71"/>
<rect x="317.72" y="544.12" width="13.16" height="13.16" fill="none" stroke="#28479d" stroke-width="3.18"/>
<rect x="327.72" y="557.42" width="13.16" height="13.16" fill="none" stroke="#28479d" stroke-width="3.18"/>
<rect x="393.42" y="549.42" width="13.16" height="13.16" fill="none" stroke="#28479d" stroke-width="3.18"/>
<rect x="388.42" y="551.72" width="13.16" height="13.16" fill="none" stroke="#28479d" stroke-width="3.18"/>
<rect x="311.72" y="563.42" width="13.16" height="13.16" fill="none" stroke="#28479d" stroke-width="3.18"/>
<rect x="315.12" y="566.72" width="13.16" height="13.16" fill="none" stroke="#28479d" stroke-width="3.18"/>
<rect x="320.12" y="571.72" width="13.16" height="13.16" fill="none" stroke="#28479d" stroke-width="3.18"/>
<rect x="332.72" y="570.72" width="13.16" height="13.16" fill="none" stroke="#28479d" stroke-width="3.18"/>
<rect x="336.72" y="575.12" width="13.16" height="13.16" fill="none" stroke="#28479d" stroke-width="3.18"/>
<rect x="349.12" y="574.72" width="13.16" height="13.16" fill="none" stroke="#28479d" stroke-width="3.18"/>
<rect x="320.12" y="586.72" width="13.16" height="13.16" fill="none" stroke="#28479d" stroke-width="3.18"/>
<rect x="324.12" y="608.72" width="13.16" height="13.16" fill="none" stroke="#28479d" stroke-width="3.18"/>
<rect x="333.42" y="578.42" width="13.16" height="13.16" fill="none" stroke="#28479d" stroke-width="3.18"/>
<rect x="372.72" y="566.72" width="13.16" height="13.16" fill="none" stroke="#28479d" stroke-width="3.18"/>
<rect x="375.92" y="571.72" width="13.16" height="13.16" fill="none" stroke="#28479d" stroke-width="3.18"/>
<rect x="381.72" y="563.42" width="13.16" height="13.16" fill="none" stroke="#28479d" stroke-width="3.18"/>
<rect x="389.42" y="569.92" width="13.16" height="13.16" fill="none" stroke="#28479d" stroke-width="3.18"/>
<rect x="448.42" y="581.72" width="13.16" height="13.16" fill="none" stroke="#28479d" stroke-width="3.18"/>
<rect x="648.42" y="556.72" width="13.16" height="13.16" fill="none" stroke="#28479d" stroke-width="3.18"/>
<rect x="680.72" y="570.72" width="13.16" height="13.16" fill="none" stroke="#28479d" stroke-width="3.18"/>
<rect x="312.42" y="573.42" width="13.16" height="13.16" fill="none" stroke="#28479d" stroke-width="3.18"/>
<rect x="324.42" y="568.42" width="13.16" height="13.16" fill="none" stroke="#28479d" stroke-width="3.18"/>
<rect x="316.42" y="578.42" width="13.16" height="13.16" fill="none" stroke="#28479d" stroke-width="3.18"/>
<rect x="328.42" y="575.42" width="13.16" height="13.16" fill="none" stroke="#28479d" stroke-width="3.18"/>
<line x1="313" y1="579" x2="686.7" y2="570" stroke="#28479d" stroke-width="3.71"/>
<text transform="translate(665 613.34) scale(1 1.0450)" font-size="26.52" fill="#28479d" stroke="#28479d" text-anchor="start" letter-spacing="0.42">r=0.15</text>
<text transform="translate(650 687.34) scale(1 1.0450)" font-size="26.52" fill="#231f20" stroke="#231f20" text-anchor="start" letter-spacing="0.42">r=-0.58</text>
<text transform="translate(400 701.64) scale(1 1.0450)" font-size="26.52" fill="#e9232a" stroke="#e9232a" text-anchor="start" letter-spacing="0.42">r=0.19</text>
</g>
<g>
<line x1="861.32" y1="824.64" x2="1327.61" y2="824.64" stroke="#231f20" stroke-width="3.2" stroke-linecap="round" stroke-dasharray="0 9.619"/>
<line x1="877.6" y1="550.05" x2="877.6" y2="869.78" stroke="#231f20" stroke-width="3.2" stroke-linecap="round" stroke-dasharray="0 9.619"/>
<line x1="851.7" y1="548.76" x2="851.7" y2="883.69" stroke="#231f20" stroke-width="3.2"/>
<line x1="850.1" y1="869.78" x2="1333.33" y2="869.78" stroke="#231f20" stroke-width="3.2"/>
<line x1="838.5" y1="842" x2="851.7" y2="842" stroke="#231f20" stroke-width="3.2"/>
<text transform="translate(835.62 850.87) scale(1 1.0450)" font-size="24.13" fill="#231f20" stroke="#231f20" text-anchor="end" letter-spacing="0.89">0</text>
<line x1="838.5" y1="786.45" x2="851.7" y2="786.45" stroke="#231f20" stroke-width="3.2"/>
<text transform="translate(835.62 795.32) scale(1 1.0450)" font-size="24.13" fill="#231f20" stroke="#231f20" text-anchor="end" letter-spacing="0.89">20</text>
<line x1="838.5" y1="730.9" x2="851.7" y2="730.9" stroke="#231f20" stroke-width="3.2"/>
<text transform="translate(835.62 739.77) scale(1 1.0450)" font-size="24.13" fill="#231f20" stroke="#231f20" text-anchor="end" letter-spacing="0.89">40</text>
<line x1="838.5" y1="675.35" x2="851.7" y2="675.35" stroke="#231f20" stroke-width="3.2"/>
<text transform="translate(835.62 684.22) scale(1 1.0450)" font-size="24.13" fill="#231f20" stroke="#231f20" text-anchor="end" letter-spacing="0.89">60</text>
<line x1="838.5" y1="619.8" x2="851.7" y2="619.8" stroke="#231f20" stroke-width="3.2"/>
<text transform="translate(835.62 628.67) scale(1 1.0450)" font-size="24.13" fill="#231f20" stroke="#231f20" text-anchor="end" letter-spacing="0.89">80</text>
<line x1="838.5" y1="564.25" x2="851.7" y2="564.25" stroke="#231f20" stroke-width="3.2"/>
<text transform="translate(835.31 573.12) scale(1 1.0450)" font-size="24.13" fill="#231f20" stroke="#231f20" text-anchor="end" letter-spacing="0.31">100</text>
<line x1="851.7" y1="869.78" x2="851.7" y2="883.69" stroke="#231f20" stroke-width="3.2"/>
<text transform="translate(851.91 911.22) scale(1 1.0450)" font-size="24.13" fill="#231f20" stroke="#231f20" text-anchor="middle" letter-spacing="0.89">0</text>
<line x1="971.5" y1="869.78" x2="971.5" y2="883.69" stroke="#231f20" stroke-width="3.2"/>
<text transform="translate(971.71 911.22) scale(1 1.0450)" font-size="24.13" fill="#231f20" stroke="#231f20" text-anchor="middle" letter-spacing="0.89">5</text>
<line x1="1091.3" y1="869.78" x2="1091.3" y2="883.69" stroke="#231f20" stroke-width="3.2"/>
<text transform="translate(1091.51 911.22) scale(1 1.0450)" font-size="24.13" fill="#231f20" stroke="#231f20" text-anchor="middle" letter-spacing="0.89">10</text>
<line x1="1211.1" y1="869.78" x2="1211.1" y2="883.69" stroke="#231f20" stroke-width="3.2"/>
<text transform="translate(1211.31 911.22) scale(1 1.0450)" font-size="24.13" fill="#231f20" stroke="#231f20" text-anchor="middle" letter-spacing="0.89">15</text>
<line x1="1330.9" y1="869.78" x2="1330.9" y2="883.69" stroke="#231f20" stroke-width="3.2"/>
<text transform="translate(1331.11 911.22) scale(1 1.0450)" font-size="24.13" fill="#231f20" stroke="#231f20" text-anchor="middle" letter-spacing="0.89">20</text>
<text transform="translate(1092.95 949.78) scale(1 1.0450)" font-size="26.19" fill="#231f20" stroke="#231f20" text-anchor="middle" letter-spacing="0">IgG (relative geometric mean)</text>
<text transform="translate(780.97 709.55) rotate(-90) scale(1 1.0800)" font-size="27.01" fill="#231f20" stroke="#231f20" text-anchor="middle" letter-spacing="0.46">CDC (%)</text>
<path d="M883.6 557.8L890.1 564.3L883.6 570.8L877.1 564.3Z" fill="none" stroke="#e9232a" stroke-width="3.51" stroke-linejoin="miter"/>
<path d="M1117.3 575.8L1123.8 582.3L1117.3 588.8L1110.8 582.3Z" fill="none" stroke="#e9232a" stroke-width="3.51" stroke-linejoin="miter"/>
<path d="M934.9 657.7L941.4 664.2L934.9 670.7L928.4 664.2Z" fill="none" stroke="#e9232a" stroke-width="3.51" stroke-linejoin="miter"/>
<path d="M878.3 592.5L884.8 599L878.3 605.5L871.8 599Z" fill="none" stroke="#e9232a" stroke-width="3.51" stroke-linejoin="miter"/>
<path d="M880.5 606.5L887 613L880.5 619.5L874 613Z" fill="none" stroke="#e9232a" stroke-width="3.51" stroke-linejoin="miter"/>
<path d="M877 620.5L883.5 627L877 633.5L870.5 627Z" fill="none" stroke="#e9232a" stroke-width="3.51" stroke-linejoin="miter"/>
<path d="M890.8 628.5L897.3 635L890.8 641.5L884.3 635Z" fill="none" stroke="#e9232a" stroke-width="3.51" stroke-linejoin="miter"/>
<path d="M876.4 662.8L882.9 669.3L876.4 675.8L869.9 669.3Z" fill="none" stroke="#e9232a" stroke-width="3.51" stroke-linejoin="miter"/>
<path d="M884.1 681.7L890.6 688.2L884.1 694.7L877.6 688.2Z" fill="none" stroke="#e9232a" stroke-width="3.51" stroke-linejoin="miter"/>
<path d="M875.6 676.4L882.1 682.9L875.6 689.4L869.1 682.9Z" fill="none" stroke="#e9232a" stroke-width="3.51" stroke-linejoin="miter"/>
<path d="M879 715.9L885.5 722.4L879 728.9L872.5 722.4Z" fill="none" stroke="#e9232a" stroke-width="3.51" stroke-linejoin="miter"/>
<path d="M877.3 756.7L883.8 763.2L877.3 769.7L870.8 763.2Z" fill="none" stroke="#e9232a" stroke-width="3.51" stroke-linejoin="miter"/>
<path d="M873.9 693L880.4 699.5L873.9 706L867.4 699.5Z" fill="none" stroke="#e9232a" stroke-width="3.51" stroke-linejoin="miter"/>
<path d="M877 648.5L883.5 655L877 661.5L870.5 655Z" fill="none" stroke="#e9232a" stroke-width="3.51" stroke-linejoin="miter"/>
<path d="M880 638.5L886.5 645L880 651.5L873.5 645Z" fill="none" stroke="#e9232a" stroke-width="3.51" stroke-linejoin="miter"/>
<line x1="873" y1="660.3" x2="1117.3" y2="582.3" stroke="#e9232a" stroke-width="3.61"/>
<circle cx="899" cy="593.4" r="6.6" fill="#231f20"/>
<circle cx="921" cy="621.9" r="6.6" fill="#231f20"/>
<circle cx="1030" cy="630.3" r="6.6" fill="#231f20"/>
<circle cx="1091.7" cy="596.7" r="6.6" fill="#231f20"/>
<circle cx="1144" cy="593.3" r="6.6" fill="#231f20"/>
<circle cx="1211" cy="589.7" r="6.6" fill="#231f20"/>
<circle cx="945.8" cy="758.9" r="6.6" fill="#231f20"/>
<circle cx="872.3" cy="862.7" r="6.6" fill="#231f20"/>
<circle cx="887" cy="662.5" r="6.6" fill="#231f20"/>
<line x1="880" y1="707.6" x2="1210.7" y2="566.7" stroke="#231f20" stroke-width="3.61"/>
<rect x="871.71" y="592.21" width="12.78" height="12.78" fill="none" stroke="#28479d" stroke-width="3.09"/>
<rect x="873.91" y="623.51" width="12.78" height="12.78" fill="none" stroke="#28479d" stroke-width="3.09"/>
<rect x="879.41" y="628.61" width="12.78" height="12.78" fill="none" stroke="#28479d" stroke-width="3.09"/>
<rect x="867.11" y="636.61" width="12.78" height="12.78" fill="none" stroke="#28479d" stroke-width="3.09"/>
<rect x="869.21" y="641.71" width="12.78" height="12.78" fill="none" stroke="#28479d" stroke-width="3.09"/>
<rect x="867.51" y="649.41" width="12.78" height="12.78" fill="none" stroke="#28479d" stroke-width="3.09"/>
<rect x="870.91" y="646.01" width="12.78" height="12.78" fill="none" stroke="#28479d" stroke-width="3.09"/>
<rect x="893.81" y="641.71" width="12.78" height="12.78" fill="none" stroke="#28479d" stroke-width="3.09"/>
<rect x="881.11" y="661.21" width="12.78" height="12.78" fill="none" stroke="#28479d" stroke-width="3.09"/>
<rect x="903.51" y="664.81" width="12.78" height="12.78" fill="none" stroke="#28479d" stroke-width="3.09"/>
<rect x="868.31" y="677.51" width="12.78" height="12.78" fill="none" stroke="#28479d" stroke-width="3.09"/>
<rect x="870.01" y="690.91" width="12.78" height="12.78" fill="none" stroke="#28479d" stroke-width="3.09"/>
<rect x="868.81" y="698.21" width="12.78" height="12.78" fill="none" stroke="#28479d" stroke-width="3.09"/>
<rect x="872.21" y="699.01" width="12.78" height="12.78" fill="none" stroke="#28479d" stroke-width="3.09"/>
<rect x="868.31" y="688.91" width="12.78" height="12.78" fill="none" stroke="#28479d" stroke-width="3.09"/>
<rect x="867.91" y="745.61" width="12.78" height="12.78" fill="none" stroke="#28479d" stroke-width="3.09"/>
<rect x="879.51" y="748.61" width="12.78" height="12.78" fill="none" stroke="#28479d" stroke-width="3.09"/>
<rect x="868.61" y="786.61" width="12.78" height="12.78" fill="none" stroke="#28479d" stroke-width="3.09"/>
<rect x="867.91" y="797.61" width="12.78" height="12.78" fill="none" stroke="#28479d" stroke-width="3.09"/>
<rect x="867.91" y="808.31" width="12.78" height="12.78" fill="none" stroke="#28479d" stroke-width="3.09"/>
<rect x="868.11" y="631.61" width="12.78" height="12.78" fill="none" stroke="#28479d" stroke-width="3.09"/>
<rect x="872.61" y="639.61" width="12.78" height="12.78" fill="none" stroke="#28479d" stroke-width="3.09"/>
<rect x="869.61" y="653.61" width="12.78" height="12.78" fill="none" stroke="#28479d" stroke-width="3.09"/>
<rect x="866.61" y="643.61" width="12.78" height="12.78" fill="none" stroke="#28479d" stroke-width="3.09"/>
<line x1="876" y1="695" x2="910" y2="640" stroke="#28479d" stroke-width="3.61"/>
<text transform="translate(1044.35 569.92) scale(1 1.0450)" font-size="25.77" fill="#e9232a" stroke="#e9232a" text-anchor="start" letter-spacing="0.41">r=0.38</text>
<text transform="translate(907.45 617.72) scale(1 1.0450)" font-size="25.77" fill="#28479d" stroke="#28479d" text-anchor="start" letter-spacing="0.41">r=0.22</text>
<text transform="translate(1188.35 629.92) scale(1 1.0450)" font-size="25.77" fill="#231f20" stroke="#231f20" text-anchor="start" letter-spacing="0.41">r=0.56</text>
</g>
<g>
<line x1="1419.62" y1="824.64" x2="1885.91" y2="824.64" stroke="#231f20" stroke-width="3.2" stroke-linecap="round" stroke-dasharray="0 9.619"/>
<line x1="1586" y1="550.05" x2="1586" y2="869.78" stroke="#231f20" stroke-width="3.2" stroke-linecap="round" stroke-dasharray="0 9.619"/>
<line x1="1410" y1="548.76" x2="1410" y2="883.69" stroke="#231f20" stroke-width="3.2"/>
<line x1="1408.4" y1="869.78" x2="1891.63" y2="869.78" stroke="#231f20" stroke-width="3.2"/>
<line x1="1396.8" y1="842" x2="1410" y2="842" stroke="#231f20" stroke-width="3.2"/>
<text transform="translate(1393.92 850.87) scale(1 1.0450)" font-size="24.13" fill="#231f20" stroke="#231f20" text-anchor="end" letter-spacing="0.89">0</text>
<line x1="1396.8" y1="786.45" x2="1410" y2="786.45" stroke="#231f20" stroke-width="3.2"/>
<text transform="translate(1393.92 795.32) scale(1 1.0450)" font-size="24.13" fill="#231f20" stroke="#231f20" text-anchor="end" letter-spacing="0.89">20</text>
<line x1="1396.8" y1="730.9" x2="1410" y2="730.9" stroke="#231f20" stroke-width="3.2"/>
<text transform="translate(1393.92 739.77) scale(1 1.0450)" font-size="24.13" fill="#231f20" stroke="#231f20" text-anchor="end" letter-spacing="0.89">40</text>
<line x1="1396.8" y1="675.35" x2="1410" y2="675.35" stroke="#231f20" stroke-width="3.2"/>
<text transform="translate(1393.92 684.22) scale(1 1.0450)" font-size="24.13" fill="#231f20" stroke="#231f20" text-anchor="end" letter-spacing="0.89">60</text>
<line x1="1396.8" y1="619.8" x2="1410" y2="619.8" stroke="#231f20" stroke-width="3.2"/>
<text transform="translate(1393.92 628.67) scale(1 1.0450)" font-size="24.13" fill="#231f20" stroke="#231f20" text-anchor="end" letter-spacing="0.89">80</text>
<line x1="1396.8" y1="564.25" x2="1410" y2="564.25" stroke="#231f20" stroke-width="3.2"/>
<text transform="translate(1393.61 573.12) scale(1 1.0450)" font-size="24.13" fill="#231f20" stroke="#231f20" text-anchor="end" letter-spacing="0.31">100</text>
<line x1="1410" y1="869.78" x2="1410" y2="883.69" stroke="#231f20" stroke-width="3.2"/>
<text transform="translate(1410.21 911.22) scale(1 1.0450)" font-size="24.13" fill="#231f20" stroke="#231f20" text-anchor="middle" letter-spacing="0.89">0</text>
<line x1="1569.8" y1="869.78" x2="1569.8" y2="883.69" stroke="#231f20" stroke-width="3.2"/>
<text transform="translate(1570.01 911.22) scale(1 1.0450)" font-size="24.13" fill="#231f20" stroke="#231f20" text-anchor="middle" letter-spacing="0.89">1</text>
<line x1="1729.6" y1="869.78" x2="1729.6" y2="883.69" stroke="#231f20" stroke-width="3.2"/>
<text transform="translate(1729.81 911.22) scale(1 1.0450)" font-size="24.13" fill="#231f20" stroke="#231f20" text-anchor="middle" letter-spacing="0.89">2</text>
<line x1="1889.4" y1="869.78" x2="1889.4" y2="883.69" stroke="#231f20" stroke-width="3.2"/>
<text transform="translate(1889.61 911.22) scale(1 1.0450)" font-size="24.13" fill="#231f20" stroke="#231f20" text-anchor="middle" letter-spacing="0.89">3</text>
<text transform="translate(1651.25 949.78) scale(1 1.0450)" font-size="26.19" fill="#231f20" stroke="#231f20" text-anchor="middle" letter-spacing="0">IgG (relative geometric mean)</text>
<text transform="translate(1339.27 709.55) rotate(-90) scale(1 1.0800)" font-size="27.01" fill="#231f20" stroke="#231f20" text-anchor="middle" letter-spacing="0.46">CDC (%)</text>
<path d="M1544.3 717.2L1550.8 723.7L1544.3 730.2L1537.8 723.7Z" fill="none" stroke="#e9232a" stroke-width="3.51" stroke-linejoin="miter"/>
<path d="M1559.3 740.2L1565.8 746.7L1559.3 753.2L1552.8 746.7Z" fill="none" stroke="#e9232a" stroke-width="3.51" stroke-linejoin="miter"/>
<path d="M1565.3 747.8L1571.8 754.3L1565.3 760.8L1558.8 754.3Z" fill="none" stroke="#e9232a" stroke-width="3.51" stroke-linejoin="miter"/>
<path d="M1552.7 753.5L1559.2 760L1552.7 766.5L1546.2 760Z" fill="none" stroke="#e9232a" stroke-width="3.51" stroke-linejoin="miter"/>
<path d="M1561 755.8L1567.5 762.3L1561 768.8L1554.5 762.3Z" fill="none" stroke="#e9232a" stroke-width="3.51" stroke-linejoin="miter"/>
<path d="M1558.7 765.2L1565.2 771.7L1558.7 778.2L1552.2 771.7Z" fill="none" stroke="#e9232a" stroke-width="3.51" stroke-linejoin="miter"/>
<path d="M1539.3 769.5L1545.8 776L1539.3 782.5L1532.8 776Z" fill="none" stroke="#e9232a" stroke-width="3.51" stroke-linejoin="miter"/>
<path d="M1546.7 773.5L1553.2 780L1546.7 786.5L1540.2 780Z" fill="none" stroke="#e9232a" stroke-width="3.51" stroke-linejoin="miter"/>
<path d="M1556 771.8L1562.5 778.3L1556 784.8L1549.5 778.3Z" fill="none" stroke="#e9232a" stroke-width="3.51" stroke-linejoin="miter"/>
<path d="M1577.7 778.5L1584.2 785L1577.7 791.5L1571.2 785Z" fill="none" stroke="#e9232a" stroke-width="3.51" stroke-linejoin="miter"/>
<path d="M1558.7 804.5L1565.2 811L1558.7 817.5L1552.2 811Z" fill="none" stroke="#e9232a" stroke-width="3.51" stroke-linejoin="miter"/>
<path d="M1521 831.8L1527.5 838.3L1521 844.8L1514.5 838.3Z" fill="none" stroke="#e9232a" stroke-width="3.51" stroke-linejoin="miter"/>
<path d="M1529.3 836.8L1535.8 843.3L1529.3 849.8L1522.8 843.3Z" fill="none" stroke="#e9232a" stroke-width="3.51" stroke-linejoin="miter"/>
<path d="M1535.3 843.5L1541.8 850L1535.3 856.5L1528.8 850Z" fill="none" stroke="#e9232a" stroke-width="3.51" stroke-linejoin="miter"/>
<path d="M1607 842.5L1613.5 849L1607 855.5L1600.5 849Z" fill="none" stroke="#e9232a" stroke-width="3.51" stroke-linejoin="miter"/>
<line x1="1521" y1="794" x2="1606" y2="781" stroke="#e9232a" stroke-width="3.61"/>
<circle cx="1554.3" cy="829" r="6.6" fill="#231f20"/>
<circle cx="1549.3" cy="834" r="6.6" fill="#231f20"/>
<circle cx="1608.3" cy="828" r="6.6" fill="#231f20"/>
<circle cx="1566.7" cy="847.3" r="6.6" fill="#231f20"/>
<circle cx="1563.7" cy="858.3" r="6.6" fill="#231f20"/>
<circle cx="1620" cy="853.3" r="6.6" fill="#231f20"/>
<circle cx="1810" cy="794" r="6.6" fill="#231f20"/>
<circle cx="1552" cy="831.5" r="6.6" fill="#231f20"/>
<circle cx="1551" cy="836" r="6.6" fill="#231f20"/>
<line x1="1550" y1="841.7" x2="1807.7" y2="800.5" stroke="#231f20" stroke-width="3.61"/>
<rect x="1537.51" y="579.11" width="12.78" height="12.78" fill="none" stroke="#28479d" stroke-width="3.09"/>
<rect x="1536.91" y="578.61" width="12.78" height="12.78" fill="none" stroke="#28479d" stroke-width="3.09"/>
<rect x="1553.91" y="569.01" width="12.78" height="12.78" fill="none" stroke="#28479d" stroke-width="3.09"/>
<rect x="1562.41" y="573.21" width="12.78" height="12.78" fill="none" stroke="#28479d" stroke-width="3.09"/>
<rect x="1587.81" y="568.21" width="12.78" height="12.78" fill="none" stroke="#28479d" stroke-width="3.09"/>
<rect x="1588.41" y="569.21" width="12.78" height="12.78" fill="none" stroke="#28479d" stroke-width="3.09"/>
<rect x="1555.51" y="585.41" width="12.78" height="12.78" fill="none" stroke="#28479d" stroke-width="3.09"/>
<rect x="1574.11" y="578.51" width="12.78" height="12.78" fill="none" stroke="#28479d" stroke-width="3.09"/>
<rect x="1569.31" y="589.11" width="12.78" height="12.78" fill="none" stroke="#28479d" stroke-width="3.09"/>
<rect x="1569.31" y="593.91" width="12.78" height="12.78" fill="none" stroke="#28479d" stroke-width="3.09"/>
<rect x="1569.31" y="598.61" width="12.78" height="12.78" fill="none" stroke="#28479d" stroke-width="3.09"/>
<rect x="1595.21" y="590.91" width="12.78" height="12.78" fill="none" stroke="#28479d" stroke-width="3.09"/>
<rect x="1647.11" y="573.61" width="12.78" height="12.78" fill="none" stroke="#28479d" stroke-width="3.09"/>
<rect x="1683.61" y="567.71" width="12.78" height="12.78" fill="none" stroke="#28479d" stroke-width="3.09"/>
<rect x="1815.61" y="577.91" width="12.78" height="12.78" fill="none" stroke="#28479d" stroke-width="3.09"/>
<rect x="1526.11" y="626.01" width="12.78" height="12.78" fill="none" stroke="#28479d" stroke-width="3.09"/>
<rect x="1562.41" y="623.01" width="12.78" height="12.78" fill="none" stroke="#28479d" stroke-width="3.09"/>
<rect x="1576.71" y="619.81" width="12.78" height="12.78" fill="none" stroke="#28479d" stroke-width="3.09"/>
<rect x="1575.11" y="624.61" width="12.78" height="12.78" fill="none" stroke="#28479d" stroke-width="3.09"/>
<rect x="1573.61" y="627.21" width="12.78" height="12.78" fill="none" stroke="#28479d" stroke-width="3.09"/>
<rect x="1553.91" y="651.61" width="12.78" height="12.78" fill="none" stroke="#28479d" stroke-width="3.09"/>
<rect x="1729.61" y="713.31" width="12.78" height="12.78" fill="none" stroke="#28479d" stroke-width="3.09"/>
<rect x="1552.31" y="736.31" width="12.78" height="12.78" fill="none" stroke="#28479d" stroke-width="3.09"/>
<rect x="1561.31" y="777.91" width="12.78" height="12.78" fill="none" stroke="#28479d" stroke-width="3.09"/>
<line x1="1532.8" y1="617.2" x2="1822" y2="610.8" stroke="#28479d" stroke-width="3.61"/>
<text transform="translate(1790.35 640.62) scale(1 1.0450)" font-size="25.77" fill="#28479d" stroke="#28479d" text-anchor="start" letter-spacing="0.41">r=0.03</text>
<text transform="translate(1604.35 766.62) scale(1 1.0450)" font-size="25.77" fill="#e9232a" stroke="#e9232a" text-anchor="start" letter-spacing="0.41">r=0.39</text>
<text transform="translate(1798.35 778.92) scale(1 1.0450)" font-size="25.77" fill="#231f20" stroke="#231f20" text-anchor="start" letter-spacing="0.41">r=0.73*</text>
</g>
<text transform="translate(508.4 27.8) scale(1 1.0450)" font-size="38.4" fill="#231f20" stroke="#231f20" text-anchor="middle" letter-spacing="0">WT</text>
<text transform="translate(1090 27.8) scale(1 1.0450)" font-size="38.4" fill="#231f20" stroke="#231f20" text-anchor="middle" letter-spacing="0.1">GTKO</text>
<text transform="translate(1628.4 27.8) scale(1 1.0450)" font-size="38.4" fill="#231f20" stroke="#231f20" text-anchor="middle" letter-spacing="0.4">TKO</text>
<text transform="translate(-1.7 259.8) scale(1 1.0350)" font-size="38.6" fill="#231f20" stroke="#231f20" text-anchor="start" letter-spacing="0">IgM/CDC</text>
<text transform="translate(-1.7 723.2) scale(1 1.0350)" font-size="38.6" fill="#231f20" stroke="#231f20" text-anchor="start" letter-spacing="0">IgG/CDC</text>
<line x1="395" y1="1001.3" x2="429.3" y2="1001.3" stroke="#231f20" stroke-width="3.18"/>
<circle cx="412.3" cy="1001.3" r="6.79" fill="#231f20"/>
<text transform="translate(449 1010) scale(1 1.0450)" font-size="26.52" fill="#231f20" stroke="#231f20" text-anchor="start" letter-spacing="0.69">Human (N=9)</text>
<line x1="393.3" y1="1036.3" x2="427.3" y2="1036.3" stroke="#28479d" stroke-width="3.18"/>
<rect x="404.12" y="1029.72" width="13.16" height="13.16" fill="#fff" stroke="#28479d" stroke-width="3.29"/>
<line x1="404.12" y1="1036.3" x2="417.28" y2="1036.3" stroke="#28479d" stroke-width="3.18"/>
<text transform="translate(447.66 1044.7) scale(1 1.0450)" font-size="26.52" fill="#28479d" stroke="#28479d" text-anchor="start" letter-spacing="0.66">OWMs (N=24)</text>
<line x1="390.7" y1="1070.7" x2="425" y2="1070.7" stroke="#e9232a" stroke-width="3.18"/>
<path d="M407.7 1064.02L414.38 1070.7L407.7 1077.38L401.02 1070.7Z" fill="#fff" stroke="#e9232a" stroke-width="3.29"/>
<line x1="401.02" y1="1070.7" x2="414.38" y2="1070.7" stroke="#e9232a" stroke-width="3.18"/>
<text transform="translate(445.06 1079) scale(1 1.0450)" font-size="26.52" fill="#e9232a" stroke="#e9232a" text-anchor="start" letter-spacing="0.66">NWMs (N=15)</text>
<line x1="957.7" y1="994" x2="991.7" y2="994" stroke="#231f20" stroke-width="3.09"/>
<circle cx="975" cy="994" r="6.6" fill="#231f20"/>
<text transform="translate(1011.05 1002.3) scale(1 1.0450)" font-size="25.77" fill="#231f20" stroke="#231f20" text-anchor="start" letter-spacing="0.67">Human (N=9)</text>
<line x1="956" y1="1029" x2="989.3" y2="1029" stroke="#28479d" stroke-width="3.09"/>
<rect x="966.31" y="1022.61" width="12.78" height="12.78" fill="#fff" stroke="#28479d" stroke-width="3.2"/>
<line x1="966.31" y1="1029" x2="979.09" y2="1029" stroke="#28479d" stroke-width="3.09"/>
<text transform="translate(1010.08 1037.3) scale(1 1.0450)" font-size="25.77" fill="#28479d" stroke="#28479d" text-anchor="start" letter-spacing="0.64">OWMs (N=24)</text>
<line x1="953.3" y1="1063" x2="987.3" y2="1063" stroke="#e9232a" stroke-width="3.09"/>
<path d="M970 1056.5L976.5 1063L970 1069.5L963.5 1063Z" fill="#fff" stroke="#e9232a" stroke-width="3.2"/>
<line x1="963.5" y1="1063" x2="976.5" y2="1063" stroke="#e9232a" stroke-width="3.09"/>
<text transform="translate(1007.08 1071.3) scale(1 1.0450)" font-size="25.77" fill="#e9232a" stroke="#e9232a" text-anchor="start" letter-spacing="0.64">NWMs (N=15)</text>
<line x1="1517" y1="995.7" x2="1551" y2="995.7" stroke="#231f20" stroke-width="3.09"/>
<circle cx="1533.7" cy="995.7" r="6.6" fill="#231f20"/>
<text transform="translate(1570.05 1004) scale(1 1.0450)" font-size="25.77" fill="#231f20" stroke="#231f20" text-anchor="start" letter-spacing="0.67">Human (N=9)</text>
<line x1="1515.3" y1="1029.7" x2="1548.7" y2="1029.7" stroke="#28479d" stroke-width="3.09"/>
<rect x="1525.61" y="1023.31" width="12.78" height="12.78" fill="#fff" stroke="#28479d" stroke-width="3.2"/>
<line x1="1525.61" y1="1029.7" x2="1538.39" y2="1029.7" stroke="#28479d" stroke-width="3.09"/>
<text transform="translate(1569.38 1038) scale(1 1.0450)" font-size="25.77" fill="#28479d" stroke="#28479d" text-anchor="start" letter-spacing="0.64">OWMs (N=24)</text>
<line x1="1512.7" y1="1063.3" x2="1546.7" y2="1063.3" stroke="#e9232a" stroke-width="3.09"/>
<path d="M1529.3 1056.8L1535.8 1063.3L1529.3 1069.8L1522.8 1063.3Z" fill="#fff" stroke="#e9232a" stroke-width="3.2"/>
<line x1="1522.8" y1="1063.3" x2="1535.8" y2="1063.3" stroke="#e9232a" stroke-width="3.09"/>
<text transform="translate(1566.38 1071.7) scale(1 1.0450)" font-size="25.77" fill="#e9232a" stroke="#e9232a" text-anchor="start" letter-spacing="0.64">NWMs (N=15)</text>
</svg>
</body>
</html>
